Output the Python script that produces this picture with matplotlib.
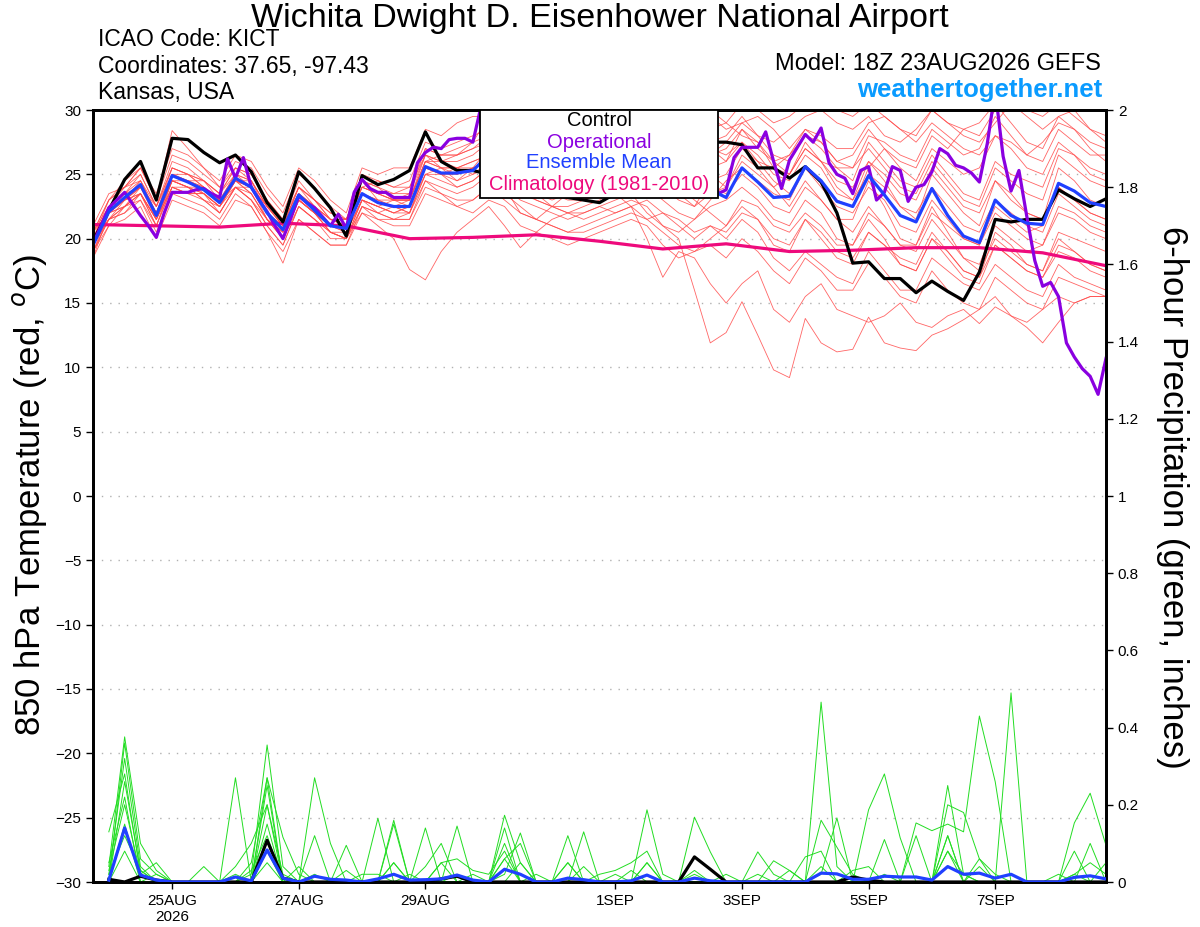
import numpy as np
import pandas as pd
import matplotlib
matplotlib.use("Agg")
import matplotlib.pyplot as plt
from matplotlib.patches import Rectangle

plt.rcParams['font.family'] = ['Liberation Sans', 'DejaVu Sans']

# 6-hourly ensemble times, 3-hourly operational run
times = pd.date_range('2026-08-23 18:00', periods=65, freq='6h')
op_times = pd.date_range('2026-08-23 18:00', periods=129, freq='3h')
precip_times = times[1:]
clim_times = times[::4]

control = [19.8, 22.2, 24.6, 26.0, 23.0, 27.8, 27.7, 26.7, 25.9, 26.5, 25.2, 22.8, 21.3, 25.2, 23.9, 22.4,
           20.2, 24.9, 24.2, 24.6, 25.3, 28.3, 26.0, 25.3, 25.3, 25.0, 24.5, 24.0, 23.8, 23.5, 23.2, 23.0,
           22.8, 23.5, 24.5, 25.5, 26.5, 27.2, 27.5, 27.5, 27.5, 27.3, 25.5, 25.5, 24.7, 25.6, 24.4, 22.0,
           18.1, 18.2, 16.9, 16.9, 15.8, 16.7, 15.9, 15.2, 17.4, 21.5, 21.3, 21.5, 21.5, 23.8, 23.1, 22.5, 23.1]

ens_mean = [19.5, 22.1, 23.2, 24.2, 21.8, 24.9, 24.4, 23.8, 22.8, 24.7, 24.0, 22.0, 20.7, 23.4, 22.2, 21.0,
            20.8, 23.5, 22.8, 22.5, 22.5, 25.6, 25.1, 25.1, 25.3, 26.5, 26.0, 25.0, 24.5, 24.0, 23.5, 23.5,
            24.0, 24.5, 25.0, 25.5, 25.0, 24.5, 24.0, 23.8, 23.2, 25.5, 24.4, 23.2, 23.3, 25.6, 24.5, 22.9,
            22.5, 24.9, 23.4, 21.8, 21.3, 23.9, 21.8, 20.2, 19.7, 23.0, 21.8, 21.2, 21.1, 24.3, 23.7, 22.8, 22.5]

operational = [19.6, 21.0, 22.4, 23.0, 23.6, 22.7, 21.8, 21.0, 20.1, 22.0, 23.6, 23.6, 23.6, 23.8, 23.9, 23.5,
               23.2, 26.2, 24.7, 26.3, 24.0, 23.0, 22.1, 21.0, 20.0, 21.6, 23.3, 22.8, 22.4, 21.7, 21.0, 21.9,
               20.8, 23.6, 24.6, 23.9, 23.6, 23.6, 23.2, 23.2, 23.2, 25.9, 26.7, 27.1, 27.0, 27.7, 27.8, 27.8,
               27.5, 30.2, 31.0, 31.5, 31.0, 30.5, 31.0, 31.5, 32.0, 31.5, 31.0, 30.5, 31.0, 31.5, 31.0, 30.5,
               31.0, 31.5, 31.0, 30.5, 30.2, 30.5, 31.0, 30.5, 30.2, 30.5, 31.0, 30.5, 29.5, 28.0, 26.0, 23.5,
               23.8, 26.3, 27.1, 27.1, 27.1, 28.3, 26.0, 23.9, 26.1, 27.1, 28.1, 27.5, 28.6, 25.9, 25.0, 24.7,
               23.5, 25.3, 25.6, 23.0, 23.6, 25.6, 25.3, 22.9, 24.0, 24.2, 25.2, 27.0, 26.6, 25.7, 25.5, 25.1,
               24.4, 27.4, 31.5, 26.4, 23.7, 25.3, 21.7, 18.3, 16.3, 16.6, 15.5, 11.9, 10.8, 9.9, 9.3, 7.9, 10.7]

climatology = [21.1, 21.0, 20.9, 21.2, 21.0, 20.0, 20.1, 20.3, 19.8, 19.2, 19.6, 19.0, 19.1, 19.3, 19.3, 18.9, 17.9]

members = [
    [20.5, 23.0, 24.5, 25.5, 23.0, 26.5, 26.0, 25.0, 24.0, 26.0, 25.5, 23.5, 22.0, 25.0, 24.0, 22.5,
     21.5, 25.0, 24.5, 24.0, 24.5, 27.5, 27.0, 27.5, 28.0, 28.5, 27.5, 26.5, 26.0, 25.5, 25.0, 26.0,
     27.0, 27.5, 28.5, 29.0, 28.0, 27.5, 26.5, 27.0, 26.0, 28.5, 27.0, 26.0, 26.5, 28.5, 27.5, 26.0,
     26.5, 28.5, 27.0, 26.0, 25.5, 28.0, 27.0, 28.5, 29.0, 30.5, 29.0, 27.5, 27.0, 29.5, 28.5, 27.5, 27.0],
    [19.0, 21.0, 21.5, 22.5, 20.0, 23.0, 22.5, 22.0, 21.0, 23.0, 22.5, 20.5, 19.0, 21.5, 20.5, 19.5,
     19.5, 22.0, 21.5, 21.0, 21.0, 23.5, 23.0, 22.5, 23.0, 24.0, 23.5, 22.5, 21.5, 21.0, 20.5, 21.0,
     21.5, 22.0, 22.5, 23.0, 22.0, 21.5, 20.5, 21.0, 20.5, 22.0, 21.5, 19.5, 19.0, 21.5, 20.0, 18.5,
     18.0, 20.5, 19.5, 18.5, 18.0, 20.5, 19.0, 17.5, 17.0, 20.5, 19.5, 18.0, 17.5, 20.0, 19.0, 18.0, 17.5],
    [20.0, 22.5, 23.5, 25.0, 22.5, 25.5, 25.0, 24.5, 23.5, 25.0, 24.5, 22.5, 21.0, 24.0, 23.0, 21.5,
     21.0, 24.0, 23.5, 23.0, 23.0, 26.5, 26.0, 26.0, 26.5, 27.5, 27.0, 26.0, 25.5, 25.0, 24.0, 24.0,
     24.5, 25.5, 26.0, 27.0, 26.5, 25.5, 24.5, 27.5, 28.0, 29.5, 28.0, 26.5, 26.0, 28.0, 27.0, 25.5,
     24.5, 27.5, 26.0, 24.5, 24.0, 26.5, 25.0, 23.5, 23.0, 26.0, 25.0, 24.5, 24.0, 27.0, 26.5, 25.5, 25.0],
    [19.5, 21.5, 22.0, 23.5, 21.0, 24.0, 23.5, 23.0, 22.0, 24.0, 23.0, 21.0, 19.5, 22.5, 21.5, 20.5,
     20.0, 22.5, 22.0, 21.5, 21.5, 24.5, 24.0, 23.5, 24.0, 25.0, 24.0, 23.0, 22.5, 22.0, 21.5, 22.0,
     22.5, 23.0, 23.5, 22.0, 21.0, 20.0, 16.0, 11.9, 12.7, 15.1, 12.5, 9.8, 9.2, 13.8, 11.9, 11.2,
     11.4, 13.9, 11.9, 11.5, 11.3, 12.5, 13.0, 13.7, 14.5, 15.5, 14.0, 13.5, 14.5, 15.5, 15.0, 15.5, 15.5],
    [18.5, 21.0, 22.5, 23.5, 21.5, 24.5, 24.0, 23.0, 22.5, 24.5, 23.5, 21.5, 20.0, 23.0, 22.0, 20.5,
     20.5, 23.0, 22.5, 22.0, 22.5, 25.0, 24.5, 24.0, 24.5, 25.5, 24.5, 23.5, 23.0, 22.5, 22.0, 22.0,
     22.5, 22.0, 22.5, 20.0, 17.0, 19.0, 18.5, 16.5, 15.0, 16.5, 17.5, 14.5, 13.5, 15.5, 16.5, 14.5,
     14.0, 13.5, 14.0, 15.0, 13.5, 13.1, 14.0, 14.5, 13.4, 14.7, 14.0, 13.1, 11.9, 13.5, 15.0, 15.5, 15.5],
    [21.0, 23.5, 24.0, 25.5, 23.5, 27.0, 26.5, 25.5, 24.5, 26.5, 26.0, 24.0, 22.5, 25.5, 24.5, 23.0,
     22.0, 25.5, 25.0, 25.5, 25.5, 28.5, 28.0, 29.0, 29.5, 29.5, 29.0, 28.0, 27.5, 27.0, 28.0, 28.5,
     29.0, 29.5, 29.0, 28.0, 29.0, 29.5, 30.0, 29.5, 28.5, 29.0, 28.0, 27.5, 28.5, 29.5, 30.0, 29.0,
     28.5, 29.5, 28.0, 27.5, 28.5, 30.0, 29.0, 28.0, 27.5, 29.0, 30.5, 29.5, 28.5, 29.5, 30.0, 28.5, 27.5],
    [20.0, 22.0, 22.5, 23.5, 21.0, 24.0, 23.5, 23.5, 22.5, 24.5, 23.5, 21.5, 20.5, 23.0, 22.0, 21.0,
     20.5, 23.0, 22.5, 23.0, 22.5, 25.5, 25.0, 24.0, 24.5, 25.5, 25.0, 24.0, 23.5, 22.5, 22.0, 22.5,
     23.0, 24.0, 25.0, 25.5, 24.5, 23.5, 22.5, 23.5, 24.0, 26.0, 25.0, 24.0, 22.5, 24.5, 23.0, 21.5,
     20.5, 22.5, 21.0, 19.5, 19.0, 21.5, 20.0, 18.5, 17.5, 20.0, 19.0, 18.0, 17.5, 20.5, 20.0, 19.5, 19.0],
    [19.5, 22.5, 23.0, 24.0, 22.5, 25.0, 24.5, 24.0, 23.0, 24.5, 24.5, 22.0, 21.0, 23.5, 22.5, 21.5,
     21.0, 24.5, 23.5, 23.0, 23.0, 26.0, 26.5, 26.5, 27.0, 27.5, 27.5, 26.0, 25.0, 24.5, 23.5, 23.0,
     23.5, 25.0, 26.5, 27.5, 28.0, 27.0, 26.0, 25.0, 24.0, 26.5, 25.5, 24.0, 25.0, 27.5, 26.0, 24.0,
     23.0, 26.0, 24.5, 22.5, 21.5, 25.0, 23.5, 22.0, 21.0, 24.5, 23.0, 22.0, 21.5, 25.5, 24.5, 23.0, 22.5],
    [20.5, 22.0, 23.0, 24.0, 22.0, 24.5, 24.0, 24.0, 23.0, 24.0, 24.0, 22.5, 21.0, 23.0, 22.0, 21.0,
     21.0, 23.5, 23.0, 22.5, 22.0, 25.0, 25.5, 25.5, 26.0, 26.5, 26.0, 25.5, 25.5, 25.0, 24.5, 24.5,
     25.0, 25.5, 26.0, 26.5, 26.0, 25.5, 25.0, 24.0, 23.5, 25.0, 24.0, 22.5, 22.0, 24.0, 23.0, 21.5,
     21.5, 24.5, 22.5, 20.0, 19.5, 22.5, 20.5, 18.5, 18.0, 21.0, 20.0, 19.0, 19.5, 22.5, 22.0, 21.0, 20.5],
    [19.0, 21.5, 22.5, 23.0, 21.0, 24.5, 24.0, 23.0, 22.0, 24.0, 23.0, 21.0, 19.5, 22.5, 21.5, 20.0,
     20.0, 22.0, 21.0, 20.0, 17.6, 16.8, 19.0, 20.5, 21.5, 22.5, 21.0, 19.3, 20.5, 21.5, 22.0, 21.5,
     22.0, 22.5, 23.0, 22.5, 21.0, 20.5, 21.5, 22.5, 23.0, 24.0, 23.0, 21.5, 21.0, 23.0, 22.0, 20.0,
     19.5, 21.5, 20.0, 18.0, 17.5, 20.0, 18.5, 17.0, 16.5, 19.5, 18.5, 17.5, 17.0, 19.5, 19.0, 18.0, 17.5],
    [20.0, 23.0, 24.0, 25.5, 23.0, 28.4, 27.0, 25.5, 24.0, 25.5, 25.0, 23.0, 21.5, 24.5, 23.0, 22.0,
     21.5, 24.0, 24.5, 24.0, 24.0, 27.0, 26.5, 26.5, 27.5, 28.0, 27.0, 26.5, 26.0, 26.5, 27.0, 27.5,
     28.0, 28.5, 29.5, 30.0, 29.0, 28.0, 27.5, 28.5, 29.0, 28.0, 27.5, 26.0, 25.0, 27.0, 26.0, 25.5,
     25.5, 28.0, 27.5, 26.5, 26.0, 28.5, 27.5, 26.5, 27.0, 29.5, 28.0, 26.5, 27.5, 29.0, 28.5, 27.0, 26.0],
    [19.0, 22.0, 23.5, 24.0, 22.0, 25.0, 25.0, 24.5, 23.0, 25.0, 24.5, 22.5, 21.0, 24.0, 22.5, 21.5,
     21.0, 24.0, 23.5, 23.5, 24.0, 26.5, 26.0, 25.5, 25.5, 26.0, 25.5, 24.5, 24.0, 23.5, 23.0, 23.0,
     23.5, 24.0, 24.5, 25.0, 24.0, 23.0, 22.5, 24.5, 25.0, 27.0, 26.0, 25.5, 26.5, 28.0, 27.5, 26.0,
     25.5, 27.0, 25.5, 24.0, 23.5, 26.0, 24.5, 23.0, 22.5, 25.5, 24.5, 23.5, 23.0, 26.5, 25.5, 24.5, 24.0],
    [20.0, 21.5, 22.0, 23.0, 20.5, 23.5, 23.0, 22.5, 21.5, 23.5, 22.5, 20.5, 18.1, 21.5, 20.5, 19.5,
     19.5, 22.5, 21.5, 21.5, 21.5, 24.0, 23.5, 23.0, 23.0, 24.0, 23.0, 22.0, 21.5, 21.0, 20.5, 20.5,
     21.0, 21.5, 22.0, 21.5, 20.5, 19.5, 19.0, 19.5, 18.5, 20.0, 19.0, 17.5, 16.5, 18.5, 17.5, 16.0,
     16.0, 18.1, 17.0, 15.5, 15.0, 17.5, 16.0, 15.0, 14.5, 17.0, 16.0, 15.0, 14.5, 17.0, 16.5, 16.0, 15.5],
    [19.5, 22.5, 24.0, 25.0, 22.5, 26.0, 25.5, 24.5, 23.5, 25.5, 25.0, 23.0, 21.5, 24.0, 23.0, 22.0,
     21.5, 24.5, 24.0, 23.5, 23.5, 27.0, 26.5, 27.0, 27.5, 29.5, 28.5, 27.0, 26.5, 26.0, 25.5, 25.0,
     25.5, 27.0, 27.5, 28.5, 27.5, 26.5, 26.0, 26.5, 27.0, 28.5, 27.5, 25.5, 25.0, 27.0, 26.0, 24.5,
     24.0, 26.0, 25.0, 23.5, 23.0, 25.5, 24.0, 22.5, 22.0, 24.5, 23.5, 22.0, 21.5, 24.0, 23.0, 22.0, 21.5],
    [20.5, 22.5, 23.0, 23.5, 21.5, 24.0, 23.5, 23.5, 22.5, 24.5, 24.0, 22.0, 20.5, 23.0, 22.0, 20.5,
     20.0, 23.0, 22.5, 22.0, 22.0, 25.0, 25.0, 24.5, 25.5, 26.0, 25.5, 25.0, 24.5, 24.0, 24.5, 25.0,
     26.0, 26.5, 27.0, 26.0, 25.5, 24.5, 24.0, 25.5, 26.0, 27.5, 26.5, 25.0, 24.5, 26.5, 25.5, 23.5,
     23.0, 25.0, 24.0, 22.5, 22.0, 24.0, 22.5, 21.0, 20.5, 23.0, 22.0, 21.0, 20.5, 23.5, 22.5, 21.5, 21.0],
    [20.0, 22.0, 23.0, 24.5, 22.0, 25.5, 25.0, 24.0, 23.0, 25.0, 24.0, 22.0, 21.0, 23.5, 22.5, 21.0,
     21.0, 24.0, 23.5, 23.0, 23.0, 26.0, 25.5, 25.0, 25.5, 27.0, 27.5, 28.0, 28.5, 29.0, 29.0, 29.5,
     30.0, 30.5, 30.0, 29.0, 30.0, 30.5, 31.0, 30.0, 29.0, 30.5, 30.0, 29.0, 29.5, 30.5, 31.0, 30.0,
     29.5, 30.5, 29.5, 28.5, 28.0, 30.0, 29.0, 28.5, 28.0, 30.0, 31.0, 30.0, 29.5, 30.5, 29.5, 28.5, 28.0],
    [18.5, 22.0, 22.5, 24.0, 21.5, 24.5, 24.5, 24.0, 23.0, 24.5, 24.0, 22.0, 20.0, 23.0, 22.0, 21.0,
     21.0, 23.5, 23.0, 23.0, 23.0, 26.0, 25.5, 25.5, 25.0, 26.0, 25.0, 24.0, 23.0, 22.5, 22.5, 23.0,
     24.0, 25.0, 24.5, 24.0, 23.0, 22.0, 21.5, 23.0, 24.5, 25.5, 24.5, 23.5, 23.0, 25.5, 24.0, 22.5,
     22.0, 24.0, 23.0, 21.0, 20.5, 23.0, 21.5, 20.0, 19.5, 22.0, 21.0, 20.0, 19.5, 22.0, 21.5, 20.5, 20.0],
    [19.5, 21.5, 23.0, 24.0, 22.0, 25.0, 24.5, 23.5, 22.5, 24.5, 24.0, 21.5, 20.5, 23.0, 22.0, 21.0,
     20.5, 23.0, 22.5, 22.0, 22.5, 25.5, 25.0, 25.5, 26.0, 26.5, 26.5, 25.5, 25.0, 24.5, 24.0, 23.5,
     24.0, 24.5, 25.5, 26.0, 25.0, 24.0, 23.0, 22.0, 21.0, 22.5, 21.5, 20.0, 19.5, 21.5, 20.5, 19.0,
     18.5, 20.5, 19.5, 18.0, 17.5, 20.0, 19.0, 17.5, 17.0, 19.5, 18.5, 17.5, 17.0, 19.0, 18.5, 17.5, 17.0],
    [20.0, 22.5, 23.5, 24.5, 22.5, 25.5, 25.0, 24.0, 23.0, 24.5, 24.0, 22.5, 21.5, 23.5, 22.5, 21.5,
     21.5, 24.5, 24.0, 23.0, 23.5, 26.5, 25.5, 24.5, 25.0, 25.5, 24.0, 22.0, 21.5, 22.5, 23.5, 24.0,
     25.0, 26.5, 27.5, 27.0, 26.0, 27.5, 28.5, 27.0, 26.5, 27.5, 26.0, 24.5, 23.5, 25.5, 24.5, 23.0,
     22.5, 25.5, 27.0, 25.5, 24.5, 27.0, 26.0, 25.0, 25.5, 28.0, 27.0, 25.5, 25.0, 27.5, 26.5, 25.0, 24.5],
    [19.0, 21.5, 22.5, 23.5, 21.5, 24.0, 24.0, 23.5, 22.0, 24.0, 23.5, 21.5, 20.0, 22.5, 21.5, 20.5,
     20.0, 22.5, 22.0, 21.5, 22.0, 24.5, 23.5, 22.5, 22.0, 23.0, 22.5, 21.0, 20.5, 20.0, 19.5, 20.0,
     20.5, 21.0, 21.5, 21.0, 19.5, 18.5, 19.0, 20.0, 21.0, 23.0, 22.5, 21.0, 20.5, 22.0, 21.0, 19.5,
     19.5, 22.0, 21.0, 19.5, 19.5, 22.0, 21.0, 20.0, 19.5, 22.5, 21.5, 20.5, 21.0, 24.0, 23.0, 22.0, 21.5],
    [20.5, 23.0, 24.0, 24.5, 22.0, 25.0, 24.5, 24.5, 23.5, 25.5, 24.5, 22.5, 21.0, 24.0, 23.0, 21.5,
     21.5, 24.5, 23.0, 22.5, 23.0, 26.0, 26.0, 26.5, 27.0, 28.0, 28.5, 29.0, 28.5, 27.5, 27.0, 26.5,
     27.0, 28.0, 28.5, 27.5, 27.0, 26.0, 25.5, 26.5, 27.5, 29.0, 29.5, 28.5, 27.0, 28.5, 28.0, 27.0,
     27.0, 29.0, 29.5, 28.5, 27.5, 29.0, 28.0, 27.0, 26.5, 28.0, 27.5, 26.5, 26.0, 28.5, 27.5, 26.5, 26.5],
    [19.5, 22.0, 23.0, 23.5, 21.5, 24.5, 24.0, 23.5, 22.5, 24.0, 23.0, 21.5, 20.0, 23.0, 22.0, 20.5,
     20.0, 23.0, 22.0, 22.5, 22.0, 25.5, 25.0, 25.0, 25.5, 26.0, 25.0, 24.0, 23.5, 23.0, 23.5, 24.0,
     24.5, 23.5, 22.5, 21.5, 22.0, 21.0, 20.0, 21.0, 20.0, 21.5, 20.5, 18.5, 17.5, 19.0, 18.0, 17.0,
     16.5, 19.0, 17.5, 16.0, 16.0, 18.5, 17.5, 16.5, 16.0, 18.0, 17.0, 16.0, 15.5, 18.0, 17.0, 16.5, 16.0],
]

precip_control = [.007, 0, .015, .005, 0, 0, 0, 0, 0, 0, .108, .01, 0, 0, 0, 0,
                  0, 0, 0, 0, 0, .008, .015, 0, 0, 0, 0, 0, 0, 0, 0, 0,
                  0, 0, 0, 0, 0, .065, .033, 0, 0, 0, 0, 0, 0, 0, 0, .013,
                  .005, 0, 0, 0, 0, 0, 0, 0, 0, 0, 0, 0, 0, 0, 0, 0]

precip_mean = [.005, .14, .018, .005, 0, 0, 0, 0, .013, .003, .083, .01, 0, .015, .007, .005,
               0, .008, .02, .005, .006, .008, .018, .005, 0, .033, .02, 0, 0, .01, .006, 0,
               0, .003, .018, 0, 0, .01, .003, 0, 0, 0, 0, 0, 0, .023, .021, .007,
               .007, .015, .013, .013, .005, .04, .02, .023, .01, .02, 0, 0, 0, .012, .016, .008]

precip_members = [
    [.04, .376, .1, .03, 0, 0, 0, 0, 0, .02, .355, .04, 0, .02, 0, 0,
     0, 0, .05, 0, 0, 0, .02, 0, 0, .173, .05, 0, 0, 0, .04, 0,
     0, 0, .05, 0, 0, .02, 0, 0, 0, 0, 0, 0, 0, .466, .04, 0,
     0, .02, 0, 0, 0, .08, .02, 0, 0, 0, 0, 0, 0, .02, 0, 0],
    [0, .36, .06, .02, 0, 0, .04, 0, 0, .05, .27, .116, .02, 0, 0, .03,
     0, .165, 0, 0, .14, 0, 0, .02, 0, .02, .127, 0, 0, 0, 0, 0,
     0, 0, .187, .02, 0, 0, 0, 0, 0, .078, .02, 0, 0, .02, .166, 0,
     0, 0, 0, 0, 0, .25, .02, 0, 0, .49, 0, 0, 0, .02, .05, .02],
    [.02, .32, .04, 0, 0, 0, 0, 0, .27, 0, .25, 0, 0, .27, .1, 0,
     0, 0, .16, 0, 0, 0, .145, 0, 0, .1, 0, 0, 0, .12, 0, 0,
     0, .03, 0, 0, 0, .168, .078, 0, 0, 0, 0, 0, .065, .08, 0, 0,
     .187, .28, .114, 0, 0, .12, 0, 0, 0, 0, 0, 0, 0, .153, .23, .095],
    [.13, .28, .02, .05, 0, 0, 0, 0, .04, .1, .2, 0, 0, .12, 0, .095,
     0, 0, .15, 0, .04, .1, 0, 0, 0, .14, 0, 0, 0, 0, .13, 0,
     .02, 0, 0, 0, 0, .03, 0, 0, 0, .02, 0, 0, 0, .16, .09, .02,
     0, .11, 0, .12, 0, .2, .18, .06, .02, 0, 0, 0, .02, 0, .1, 0],
    [0, .26, .03, 0, 0, 0, 0, 0, .02, 0, .15, 0, .04, 0, 0, 0,
     .02, .02, 0, .02, 0, .05, .06, .03, .02, .08, 0, .02, 0, .05, 0, .02,
     .03, .05, .08, 0, 0, 0, 0, .02, 0, 0, .055, .03, 0, 0, 0, .03,
     .04, 0, 0, .153, .133, .15, .13, .43, .26, 0, 0, 0, 0, .08, 0, .05],
    [.05, .22, 0, .02, 0, 0, 0, 0, 0, .03, .12, 0, 0, 0, 0, 0,
     0, 0, .05, 0, 0, .05, 0, 0, 0, .06, .1, 0, 0, 0, 0, 0,
     0, 0, 0, 0, 0, 0, 0, 0, 0, 0, 0, 0, 0, 0, 0, 0,
     0, 0, 0, 0, 0, .12, 0, .04, 0, 0, 0, 0, 0, 0, 0, 0],
    [.03, .2, .02, 0, 0, 0, 0, 0, 0, 0, .08, 0, 0, 0, 0, 0,
     0, 0, 0, 0, 0, 0, 0, 0, 0, 0, 0, 0, 0, .05, 0, 0,
     0, 0, 0, 0, 0, 0, 0, 0, 0, 0, 0, .03, 0, 0, 0, 0,
     0, 0, 0, 0, 0, .08, 0, 0, 0, 0, 0, 0, 0, 0, 0, 0],
    [0, .15, 0, 0, 0, 0, 0, 0, 0, 0, .05, 0, 0, 0, 0, 0,
     0, 0, 0, 0, 0, 0, 0, 0, 0, 0, .05, 0, 0, 0, 0, 0,
     0, 0, .05, 0, 0, 0, 0, 0, 0, 0, 0, 0, 0, 0, 0, 0,
     0, 0, 0, 0, 0, 0, 0, 0, 0, 0, 0, 0, 0, 0, 0, 0],
    [.02, .12, .03, 0, 0, 0, 0, 0, 0, 0, .2, .02, 0, 0, 0, 0,
     0, 0, 0, 0, 0, 0, 0, 0, 0, .06, 0, 0, 0, 0, 0, 0,
     0, 0, 0, 0, 0, 0, 0, 0, 0, 0, 0, 0, 0, .04, 0, 0,
     0, 0, 0, 0, 0, 0, 0, .06, 0, 0, 0, 0, 0, 0, 0, 0],
    [0, .08, 0, 0, 0, 0, 0, 0, 0, 0, .27, 0, 0, 0, 0, 0,
     0, 0, 0, 0, 0, 0, 0, 0, 0, 0, 0, 0, 0, 0, 0, 0,
     0, 0, 0, 0, 0, 0, 0, 0, 0, 0, 0, 0, 0, 0, 0, 0,
     0, 0, 0, 0, 0, 0, 0, 0, 0, 0, 0, 0, 0, 0, 0, 0],
]

tick_dates = pd.to_datetime(['2026-08-25', '2026-08-27', '2026-08-29', '2026-09-01',
                             '2026-09-03', '2026-09-05', '2026-09-07'])
tick_labels = ['25AUG\n2026', '27AUG', '29AUG', '1SEP', '3SEP', '5SEP', '7SEP']

c_red = '#ff4a4a'
c_green = '#22dd22'
c_purple = '#8a00e0'
c_blue = '#2040ff'
c_pink = '#ee0a7c'

fig = plt.figure(figsize=(12, 9.27), dpi=100)
ax = fig.add_axes([93/1200, 1-882/927, (1106-93)/1200, (882-110)/927])

for m in members:
    ax.plot(times, m, color=c_red, lw=0.6, alpha=0.85, zorder=2)
ax.plot(clim_times, climatology, color=c_pink, lw=2.3, zorder=3)
ax.plot(times, control, color='black', lw=2.3, zorder=4)
ax.plot(op_times, operational, color=c_purple, lw=2.3, zorder=5)
ax.plot(times, ens_mean, color=c_blue, lw=2.3, zorder=6)

ax.set_xlim(times[0], times[-1])
ax.set_ylim(-30, 30)
ax.set_yticks(np.arange(-30, 31, 5))
for yv in np.arange(-25, 30, 5):
    ax.axhline(yv, color='#b0b0b0', lw=1.0, ls=(0, (1, 5)), zorder=1)
ax.set_xticks(tick_dates)
ax.set_xticklabels(tick_labels)
ax.tick_params(axis='both', labelsize=11, length=5, width=1, direction='out')

ax2 = ax.twinx()
for p in precip_members:
    ax2.plot(precip_times, p, color=c_green, lw=0.7, zorder=2)
ax2.plot(precip_times, precip_control, color='black', lw=2.3, zorder=3)
ax2.plot(precip_times, precip_mean, color=c_blue, lw=2.3, zorder=4)
ax2.set_ylim(0, 2)
ax2.set_yticks(np.arange(0, 2.01, 0.2))
ax2.set_yticklabels(['0', '0.2', '0.4', '0.6', '0.8', '1', '1.2', '1.4', '1.6', '1.8', '2'])
ax2.tick_params(axis='y', labelsize=11, length=5, width=1, direction='out')
ax2.set_xlim(times[0], times[-1])

for a in (ax, ax2):
    for s in a.spines.values():
        s.set_linewidth(2.0)

# legend box
ax2.add_patch(Rectangle((0.382, 0.886), 0.235, 0.114, transform=ax.transAxes,
                        facecolor='white', edgecolor='black', lw=1.3, zorder=20, clip_on=False))
leg_items = [('Control', 'black'), ('Operational', c_purple),
             ('Ensemble Mean', c_blue), ('Climatology (1981-2010)', c_pink)]
leg_y = [121, 142, 163, 185]
for (lab, col), yy in zip(leg_items, leg_y):
    fig.text(599/1200, 1-yy/927, lab, color=col, fontsize=14.5, ha='center', va='center', zorder=30)

fig.text(600/1200, 1-18/927, 'Wichita Dwight D. Eisenhower National Airport',
         fontsize=24.5, ha='center', va='center')
fig.text(98/1200, 1-40/927, 'ICAO Code: KICT', fontsize=16.5, va='center')
fig.text(98/1200, 1-66/927, 'Coordinates: 37.65, -97.43', fontsize=16.5, va='center')
fig.text(98/1200, 1-92/927, 'Kansas, USA', fontsize=16.5, va='center')
fig.text(1101/1200, 1-64/927, 'Model: 18Z 23AUG2026 GEFS', fontsize=17, ha='right', va='center')
fig.text(1102/1200, 1-90/927, 'weathertogether.net', fontsize=18.5, ha='right', va='center',
         color='#0a9bff', fontweight='bold')

fig.text(30/1200, 1-495/927, r'850 hPa Temperature (red, $^{o}$C)', fontsize=25,
         rotation=90, ha='center', va='center')
fig.text(1172/1200, 1-497/927, '6-hour Precipitation (green, inches)', fontsize=25,
         rotation=270, ha='center', va='center')

fig.savefig('out.png', dpi=100)
